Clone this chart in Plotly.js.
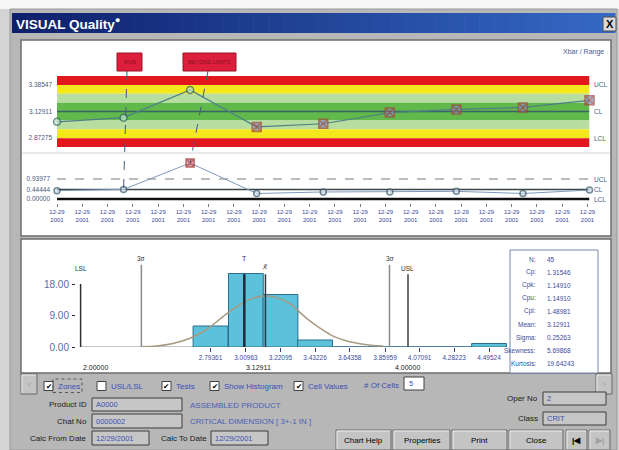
<!DOCTYPE html>
<html><head><meta charset="utf-8">
<script src="https://cdn.plot.ly/plotly-3.0.1.min.js"></script>
<style>html,body{margin:0;padding:0;background:#d4d4d4;}#chart{width:619px;height:450px;}</style>
</head><body><div id="chart"></div>
<script>
// ---------------- data ----------------
const subgroups   = [1, 2, 3, 4, 5, 6, 7, 8, 9];
const xbarValues  = [3.030, 3.070, 3.336, 2.981, 3.011, 3.119, 3.149, 3.168, 3.237];
const xbarFlags   = [0, 0, 0, 1, 1, 1, 1, 1, 1];
const rangeValues = [0.39, 0.45, 1.69, 0.26, 0.33, 0.33, 0.36, 0.26, 0.42];
const rangeFlags  = [0, 0, 1, 0, 0, 0, 0, 0, 0];
const xbarLimits  = [2.87275, 3.12911, 3.38547];   // LCL, CL, UCL
const rangeLimits = [0.00000, 0.44444, 0.93977];   // LCL, CL, UCL
const limitNames  = ['LCL', 'CL', 'UCL'];
const testPoints  = [2, 3];
const testLabels  = ['RUN', 'BEYOND LIMITS'];
const dateLabels  = ['12-29<br>2001','12-29<br>2001','12-29<br>2001','12-29<br>2001','12-29<br>2001','12-29<br>2001',
                     '12-29<br>2001','12-29<br>2001','12-29<br>2001','12-29<br>2001','12-29<br>2001','12-29<br>2001',
                     '12-29<br>2001','12-29<br>2001','12-29<br>2001','12-29<br>2001','12-29<br>2001','12-29<br>2001',
                     '12-29<br>2001','12-29<br>2001','12-29<br>2001','12-29<br>2001'];
const histCenters = [2.79361, 3.00963, 3.22095, 3.43226, 3.64358, 3.85959, 4.07091, 4.28223, 4.49524];
const histLabels  = ['2.79361','3.00963','3.22095','3.43226','3.64358','3.85959','4.07091','4.28223','4.49524'];
const histCounts  = [6, 21, 15, 2, 0, 0, 0, 0, 1];
const histYTicks  = [0, 9, 18];
const histYText   = ['0.00', '9.00', '18.00'];
const curveX = [2.373, 2.465, 2.564, 2.668, 2.770, 2.870, 2.954, 3.035, 3.114, 3.198, 3.279, 3.381, 3.462, 3.542, 3.626, 3.707, 3.786, 3.847];
const curveY = [0.1, 0.3, 1.0, 2.5, 5.0, 8.7, 11.5, 13.6, 14.6, 14.1, 12.3, 8.2, 5.4, 3.1, 1.7, 0.9, 0.4, 0.3];
const LSL = 2.0, USL = 4.0, TARGET = 3.0, MEAN = 3.12911, SIGMA = 0.25263;
const statLabels = ['N:', 'Cp:', 'Cpk:', 'Cpu:', 'Cpl:', 'Mean:', 'Sigma:', 'Skewness:', 'Kurtosis:'];
const statValues = ['45', '1.31546', '1.14910', '1.14910', '1.48981', '3.12911', '0.25263', '5.69868', '19.64243'];

// ---------------- geometry helpers ----------------
const W = 619, H = 450;
const PX = x => x / W, PY = y => 1 - y / H;
const dX = d => [d[0] / W, d[1] / W];
const dY = d => [1 - d[1] / H, 1 - d[0] / H];
const FONT = 'Liberation Sans, Arial, sans-serif';

const xbarDomX = [57, 589.5], xbarDomY = [76, 147];
const rngDomY = [155, 203];
const dateDomX = [57, 587.5];
const histDomX = [76, 507], histDomY = [252.5, 347];
const HPX = 163.7; // px per unit in histogram

const cl = xbarLimits[1], sig = (xbarLimits[2] - xbarLimits[1]) / 3;
const xRange = [subgroups[0], subgroups[subgroups.length - 1]];
const xbarRange = [cl - 4 * sig, cl + 4 * sig];
const rngRange = [-(rngDomY[1] - 199) / 21.28, (199 - rngDomY[0]) / 21.28];
const histXRange = [LSL - (80.6 - histDomX[0]) / HPX, LSL + (histDomX[1] - 80.6) / HPX];
const histYRange = [0, 27];
const binW = (histCenters[histCenters.length - 1] - histCenters[0]) / (histCenters.length - 1);

function mapX(v, dom, rng) { return (dom[0] + (v - rng[0]) / (rng[1] - rng[0]) * (dom[1] - dom[0])) / W; }
function mapY(v, dom, rng) { return 1 - (dom[1] - (v - rng[0]) / (rng[1] - rng[0]) * (dom[1] - dom[0])) / H; }

const shapes = [];
const ann = [];
function rect(x0, y0, x1, y1, fill, line, lw, extra) {
  shapes.push(Object.assign({type: 'rect', xref: 'paper', yref: 'paper', x0: PX(x0), x1: PX(x1), y0: PY(y1), y1: PY(y0),
    fillcolor: fill, line: {color: line || fill, width: lw === undefined ? 1 : lw}, layer: 'below'}, extra || {}));
}
function pline(x0, y0, x1, y1, color, w, dash, layer) {
  shapes.push({type: 'line', xref: 'paper', yref: 'paper', x0: PX(x0), y0: PY(y0), x1: PX(x1), y1: PY(y1),
    line: {color: color, width: w, dash: dash || 'solid'}, layer: layer || 'below'});
}
function txt(text, x, y, size, color, xanchor, extra) {
  ann.push(Object.assign({text: text, xref: 'paper', yref: 'paper', x: PX(x), y: PY(y), xanchor: xanchor || 'left', yanchor: 'middle',
    showarrow: false, font: {family: FONT, size: size, color: color}}, extra || {}));
}

// ---------------- window frame ----------------
rect(0, 0, 619, 9, '#f6f6f6', '#f6f6f6', 0);
rect(10, 9, 617, 450, '#b7b7b7', '#9a9a9a', 1);
// title bar gradient
const c0 = [14, 32, 108], c1 = [52, 104, 196], steps = 40;
for (let i = 0; i < steps; i++) {
  const t = i / (steps - 1);
  const c = c0.map((v, k) => Math.round(v + (c1[k] - v) * t));
  const xa = 12 + (603 * i) / steps, xb = 12 + (603 * (i + 1)) / steps + 0.5;
  rect(xa, 13, xb, 33, `rgb(${c.join(',')})`, `rgb(${c.join(',')})`, 0);
}
txt('VISUAL Quality<sup>●</sup>', 14, 23.5, 13.5, '#ffffff', 'left', {font: {family: FONT, size: 13.5, color: '#ffffff', weight: 'bold'}});
rect(603, 17, 616, 31, '#d8d8d8', '#505050', 1);
txt('<b>X</b>', 609.5, 24, 11, '#000000', 'center');

// panels
rect(21, 40, 611, 236, '#ffffff', '#6e6e6e', 1.5);
rect(21, 239, 611, 373, '#ffffff', '#6e6e6e', 1.5);
pline(22, 153, 610, 153, '#d4d4d4', 1);
txt('Xbar / Range', 606, 52, 7, '#4a5a90', 'right');

// ---------------- X-bar zones ----------------
const zoneDefs = [[3, 4, '#e3171e'], [2, 3, '#f3e81c'], [1, 2, '#b7dda0'], [-1, 1, '#61b84b'], [-2, -1, '#b7dda0'], [-3, -2, '#f3e81c'], [-4, -3, '#e3171e']];
zoneDefs.forEach(z => shapes.push({type: 'rect', xref: 'x', yref: 'y', x0: xRange[0], x1: xRange[1], y0: cl + z[0] * sig, y1: cl + z[1] * sig,
  fillcolor: z[2], line: {width: 0}, layer: 'below'}));
shapes.push({type: 'line', xref: 'x', yref: 'y', x0: xRange[0], x1: xRange[1], y0: cl, y1: cl, line: {color: '#3b6468', width: 1.6}, layer: 'below'});
xbarLimits.forEach((v, i) => txt(limitNames[i], 592, 0, 6.5, '#4a5a80', 'left', {yref: 'y', y: v}));

// range limits
const rngStyles = [{color: '#101010', width: 2.5, dash: 'solid'}, {color: '#3a4448', width: 1.6, dash: 'solid'}, {color: '#a6a6a6', width: 1.5, dash: 'dash'}];
rangeLimits.forEach((v, i) => {
  shapes.push({type: 'line', xref: 'x', yref: 'y2', x0: xRange[0], x1: xRange[1], y0: v, y1: v, line: rngStyles[i], layer: 'below'});
  txt(limitNames[i], 592, 0, 6.5, '#4a5a80', 'left', {yref: 'y2', y: v});
});

// test boxes and connectors
const boxPx = [[117, 142, 127], [183, 236, 208]];
testPoints.forEach((p, i) => {
  const b = boxPx[i];
  const idx = subgroups.indexOf(p);
  shapes.push({type: 'line', xref: 'paper', yref: 'paper', x0: PX(b[2]), y0: PY(71),
    x1: mapX(p, xbarDomX, xRange), y1: mapY(rangeValues[idx], rngDomY, rngRange),
    line: {color: '#4a5a7a', width: 1, dash: 'dash'}, layer: 'above'});
  rect(b[0], 53, b[1], 71, '#dc1f3c', '#9c1426', 1, {layer: 'above'});
  txt(testLabels[i], (b[0] + b[1]) / 2, 62, 5.5, '#8a1020', 'center');
});

// ---------------- histogram reference lines ----------------
function vline(x, top, color, w) {
  shapes.push({type: 'line', xref: 'x3', yref: 'y3', x0: x, x1: x, y0: 0, y1: top, line: {color: color, width: w}, layer: 'above'});
}
shapes.push({type: 'line', xref: 'x3', yref: 'y3', x0: LSL, x1: histXRange[1], y0: 0, y1: 0, line: {color: '#7c8c94', width: 1}, layer: 'below'});
vline(LSL, 18, '#303030', 1.5);
vline(MEAN - 3 * SIGMA, 23.5, '#8a8a8a', 1.5);
vline(MEAN + 3 * SIGMA, 23.5, '#8a8a8a', 1.5);
vline(TARGET, 20.8, '#1a2a3a', 2.5);
vline(MEAN, 20.8, '#2a3a4a', 1.5);
vline(USL, 20.8, '#404040', 1.5);
const hx = v => mapX(v, histDomX, histXRange) * W;
txt('LSL', hx(LSL), 268, 6.5, '#303030', 'center');
txt('3σ', hx(MEAN - 3 * SIGMA), 258, 6.5, '#303030', 'center');
txt('3σ', hx(MEAN + 3 * SIGMA), 258, 6.5, '#303030', 'center');
txt('T', hx(TARGET), 258, 7, '#303030', 'center');
txt('<i>x̄</i>', hx(MEAN), 266, 8, '#303030', 'center');
txt('USL', hx(USL), 268, 6.5, '#303030', 'center');
txt(LSL.toFixed(5), hx(LSL), 367, 7, '#202020', 'left');
txt(MEAN.toFixed(5), hx(MEAN) - 7, 367, 7, '#202020', 'center');
txt(USL.toFixed(5), hx(USL), 367, 7, '#202020', 'center');

// stats box
rect(510, 250, 598, 373, '#ffffff', '#7a88b0', 1);
statLabels.forEach((l, i) => {
  txt(l, 538, 259 + i * 13.1, 6.5, '#3a4aa0', 'right');
  txt(statValues[i], 545, 259 + i * 13.1, 6.5, '#3a4aa0', 'left');
});

// ---------------- controls ----------------
function button(x0, y0, x1, y1, label, color) {
  rect(x0, y0, x1, y1, '#c4c4c4', '#6a6a6a', 1);
  pline(x0 + 1, y0 + 1, x1 - 1, y0 + 1, '#ececec', 1);
  pline(x0 + 1, y0 + 1, x0 + 1, y1 - 1, '#ececec', 1);
  if (label) txt(label, (x0 + x1) / 2, (y0 + y1) / 2, 8, color || '#000000', 'center');
}
button(21, 374, 37, 394, '‹', '#9a9a9a');
button(596, 374, 612, 394, '›', '#9a9a9a');
const checks = [['Zones', 44, true], ['USL/LSL', 97, false], ['Tests', 162, true], ['Show Histogram', 210, true], ['Cell Values', 294, true]];
checks.forEach(c => {
  rect(c[1], 381.5, c[1] + 9, 390.5, '#ffffff', '#404040', 1);
  if (c[2]) txt('✔', c[1] + 4.5, 386, 7.5, '#000000', 'center', {font: {family: 'DejaVu Sans', size: 7.5, color: '#000000'}});
  txt(c[0], c[1] + 12, 386, 8, '#3a4fb8', 'left');
});
rect(53, 379, 82, 392.5, 'rgba(0,0,0,0)', '#404040', 0.8, {line: {color: '#404040', width: 0.8, dash: 'dot'}});
txt('# Of Cells', 362, 385, 8, '#3a4fb8', 'left');
rect(404, 377, 424, 390, '#ffffff', '#404040', 1);
txt('5', 407, 383, 7.5, '#3a4fb8', 'left');

function field(label, lx, x0, x1, y0, y1, value) {
  txt(label, lx, (y0 + y1) / 2, 8, '#1a1a1a', 'right');
  rect(x0, y0, x1, y1, '#c6c6c6', '#3c3c3c', 1);
  txt(value, x0 + 2, (y0 + y1) / 2, 7.5, '#3a50b0', 'left');
}
field('Product ID', 89, 92, 182, 398, 411, 'A0000');
field('Chat No', 89, 92, 182, 414, 428, '0000002');
field('Calc From Date', 89, 92, 149, 431, 445, '12/29/2001');
field('Calc To Date', 209, 211, 268, 431, 445, '12/29/2001');
field('Oper No', 540, 543, 606, 392, 405, '2');
field('Class', 540, 543, 606, 412, 425, 'CRIT');
txt('ASSEMBLED PRODUCT', 188, 405, 8, '#4a60b8', 'left');
txt('CRITICAL DIMENSION [ 3+-1 IN ]', 188, 421, 8, '#4a60b8', 'left');
button(336, 430, 391, 450, 'Chart Help');
button(393, 430, 450, 450, 'Properties');
button(452, 430, 507, 450, 'Print');
button(509, 430, 563, 450, 'Close');
button(566, 430, 587, 450, '<b>|◀</b>');
button(589, 430, 610, 450, '<b>▶|</b>', '#a0a0a0');

// ---------------- traces ----------------
const traces = [
  {type: 'scatter', mode: 'lines+markers', x: subgroups, y: xbarValues, xaxis: 'x', yaxis: 'y', cliponaxis: false, hoverinfo: 'skip',
   line: {color: '#4d7f86', width: 1.2},
   marker: {symbol: xbarFlags.map(f => f ? 'square-x' : 'circle'), size: xbarFlags.map(f => f ? 9 : 7),
            color: xbarFlags.map(f => f ? '#7f8fcf' : '#bfe0d2'),
            line: {color: xbarFlags.map(f => f ? '#a3473f' : '#2f6a5a'), width: 1.5}}},
  {type: 'scatter', mode: 'lines+markers', x: subgroups, y: rangeValues, xaxis: 'x', yaxis: 'y2', cliponaxis: false, hoverinfo: 'skip',
   line: {color: '#7f9abf', width: 1},
   marker: {symbol: rangeFlags.map(f => f ? 'square-x' : 'circle'), size: rangeFlags.map(f => f ? 8 : 6),
            color: rangeFlags.map(f => f ? '#d88a8a' : '#cfdde6'),
            line: {color: rangeFlags.map(f => f ? '#a02828' : '#3a5a6a'), width: 1.5}}},
  {type: 'scatter', mode: 'markers', x: [0, dateLabels.length - 1], y: [null, null], xaxis: 'x2', yaxis: 'y2', hoverinfo: 'skip', marker: {opacity: 0}},
  {type: 'bar', x: histCenters, y: histCounts, width: binW, xaxis: 'x3', yaxis: 'y3', hoverinfo: 'skip',
   marker: {color: '#5cc1db', line: {color: '#2a6e8a', width: 1}}},
  {type: 'scatter', mode: 'lines', x: curveX, y: curveY, xaxis: 'x3', yaxis: 'y3', hoverinfo: 'skip', line: {color: '#a89a82', width: 1.5, shape: 'spline'}}
];

const ax = {showgrid: false, zeroline: false, showline: false, fixedrange: true};
const layout = {
  width: W, height: H, margin: {l: 0, r: 0, t: 0, b: 0},
  paper_bgcolor: '#d4d4d4', plot_bgcolor: 'rgba(0,0,0,0)', showlegend: false,
  font: {family: FONT},
  xaxis: Object.assign({}, ax, {domain: dX(xbarDomX), range: xRange, anchor: 'y2', visible: false}),
  yaxis: Object.assign({}, ax, {domain: dY(xbarDomY), range: xbarRange, anchor: 'x', tickvals: xbarLimits,
    ticktext: xbarLimits.map(v => v.toFixed(5)), ticks: '', ticklabelstandoff: 4, tickfont: {size: 6.5, color: '#4a5a80'}}),
  yaxis2: Object.assign({}, ax, {domain: dY(rngDomY), range: rngRange, anchor: 'x', tickvals: rangeLimits,
    ticktext: rangeLimits.map(v => v.toFixed(5)), ticks: '', ticklabelstandoff: 6, tickfont: {size: 6.5, color: '#4a5a80'}}),
  xaxis2: Object.assign({}, ax, {domain: dX(dateDomX), range: [0, dateLabels.length - 1], anchor: 'y2',
    tickvals: dateLabels.map((d, i) => i), ticktext: dateLabels, ticks: 'outside', ticklen: 3, tickcolor: '#7a7a7a',
    tickfont: {size: 6, color: '#3a4a9a'}}),
  xaxis3: Object.assign({}, ax, {domain: dX(histDomX), range: histXRange, anchor: 'y3', tickvals: histCenters, ticktext: histLabels,
    ticks: 'outside', ticklen: 4, tickcolor: '#30407a', tickfont: {size: 6.5, color: '#3a4a9a'}}),
  yaxis3: Object.assign({}, ax, {domain: dY(histDomY), range: histYRange, anchor: 'x3', tickvals: histYTicks, ticktext: histYText,
    ticks: 'outside', ticklen: 3, tickcolor: '#303030', ticklabelstandoff: 1, tickfont: {size: 10, color: '#5a6aa0'}}),
  shapes: shapes, annotations: ann
};
Plotly.newPlot('chart', traces, layout, {staticPlot: true, displayModeBar: false});
</script>
</body></html>
